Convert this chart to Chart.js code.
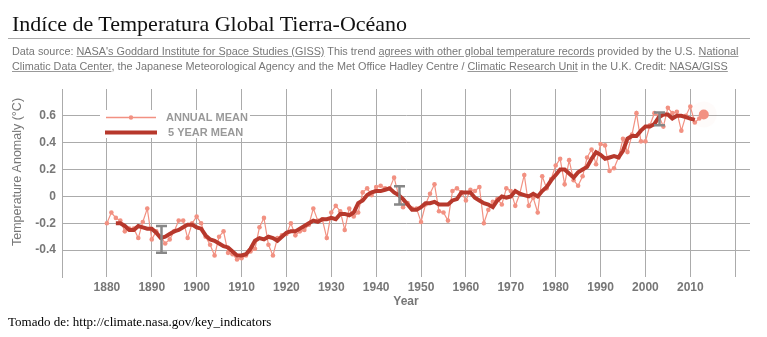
<!DOCTYPE html>
<html>
<head>
<meta charset="utf-8">
<script src="https://cdn.jsdelivr.net/npm/chart.js@4/dist/chart.umd.min.js"></script>
<style>
body{margin:0;background:#fff;width:767px;height:337px;position:relative;overflow:hidden}
#chart{position:absolute;left:0;top:0}
#title{position:absolute;left:12px;top:13px;line-height:22px;font-size:22px;font-family:"Liberation Serif",serif;color:#111;white-space:nowrap}
#rule{position:absolute;left:8px;top:38px;width:742px;height:1px;background:#aaa}
.src{position:absolute;left:12px;line-height:15px;font-size:10.85px;font-family:"Liberation Sans",Arial,sans-serif;color:#777;white-space:nowrap}
.src u{text-decoration-color:#999}
#foot{position:absolute;left:8px;top:315px;line-height:13px;font-size:13px;font-family:"Liberation Serif",serif;color:#000;white-space:nowrap}
</style>
</head>
<body>
<canvas id="chart" width="767" height="337"></canvas>
<div id="title">Indíce de Temperatura Global Tierra-Océano</div>
<div id="rule"></div>
<div class="src" style="top:44px">Data source: <u>NASA's Goddard Institute for Space Studies (GISS)</u> This trend <u>agrees with other global temperature records</u> provided by the U.S. <u>National</u></div>
<div class="src" style="top:59px"><u>Climatic Data Center</u>, the Japanese Meteorological Agency and the Met Office Hadley Centre / <u>Climatic Research Unit</u> in the U.K. Credit: <u>NASA/GISS</u></div>
<div id="foot">Tomado de: http://climate.nasa.gov/key_indicators</div>
<script>
'use strict'

let years = [
    1880, 1881, 1882, 1883, 1884, 1885, 1886, 1887, 1888, 1889,
    1890, 1891, 1892, 1893, 1894, 1895, 1896, 1897, 1898, 1899,
    1900, 1901, 1902, 1903, 1904, 1905, 1906, 1907, 1908, 1909,
    1910, 1911, 1912, 1913, 1914, 1915, 1916, 1917, 1918, 1919,
    1920, 1921, 1922, 1923, 1924, 1925, 1926, 1927, 1928, 1929,
    1930, 1931, 1932, 1933, 1934, 1935, 1936, 1937, 1938, 1939,
    1940, 1941, 1942, 1943, 1944, 1945, 1946, 1947, 1948, 1949,
    1950, 1951, 1952, 1953, 1954, 1955, 1956, 1957, 1958, 1959,
    1960, 1961, 1962, 1963, 1964, 1965, 1966, 1967, 1968, 1969,
    1970, 1971, 1972, 1973, 1974, 1975, 1976, 1977, 1978, 1979,
    1980, 1981, 1982, 1983, 1984, 1985, 1986, 1987, 1988, 1989,
    1990, 1991, 1992, 1993, 1994, 1995, 1996, 1997, 1998, 1999,
    2000, 2001, 2002, 2003, 2004, 2005, 2006, 2007, 2008, 2009,
    2010, 2011, 2012, 2013]

// annual mean anomaly, one per year
let annualMean = [
    -0.20, -0.12, -0.16, -0.18, -0.26, -0.24, -0.24, -0.31, -0.19, -0.09,
    -0.32, -0.26, -0.30, -0.35, -0.32, -0.26, -0.18, -0.18, -0.31, -0.20,
    -0.15, -0.20, -0.30, -0.36, -0.44, -0.30, -0.26, -0.42, -0.43, -0.47,
    -0.46, -0.44, -0.41, -0.39, -0.23, -0.16, -0.36, -0.44, -0.31, -0.29,
    -0.28, -0.20, -0.29, -0.26, -0.25, -0.21, -0.09, -0.18, -0.17, -0.31,
    -0.12, -0.07, -0.11, -0.25, -0.09, -0.15, -0.12, 0.03, 0.06, 0.01,
    0.07, 0.08, 0.06, 0.06, 0.14, 0.01, -0.08, -0.05, -0.09, -0.09,
    -0.19, -0.06, 0.02, 0.09, -0.11, -0.12, -0.18, 0.04, 0.06, 0.03,
    -0.03, 0.05, 0.04, 0.07, -0.20, -0.10, -0.04, -0.02, -0.06, 0.06,
    0.04, -0.07, 0.02, 0.16, -0.07, -0.01, -0.12, 0.15, 0.06, 0.13,
    0.23, 0.28, 0.09, 0.27, 0.12, 0.08, 0.15, 0.29, 0.35, 0.24,
    0.39, 0.38, 0.19, 0.21, 0.29, 0.43, 0.33, 0.46, 0.62, 0.41,
    0.41, 0.53, 0.62, 0.60, 0.52, 0.66, 0.62, 0.63, 0.49, 0.60,
    0.67, 0.55, 0.58, 0.61]

// 5 year mean, null where the window runs off the ends
let fiveYearMean = [
    null, null, -0.20, -0.20, -0.22, -0.25, -0.25, -0.22, -0.23, -0.24,
    -0.24, -0.27, -0.31, -0.30, -0.28, -0.26, -0.25, -0.23, -0.21, -0.21,
    -0.23, -0.24, -0.29, -0.32, -0.33, -0.35, -0.37, -0.38, -0.41, -0.44,
    -0.44, -0.43, -0.39, -0.33, -0.31, -0.32, -0.30, -0.31, -0.33, -0.30,
    -0.27, -0.26, -0.26, -0.24, -0.22, -0.20, -0.18, -0.19, -0.17, -0.17,
    -0.16, -0.17, -0.13, -0.13, -0.14, -0.12, -0.05, -0.03, 0.01, 0.03,
    0.04, 0.04, 0.05, 0.06, 0.03, 0.01, -0.02, -0.06, -0.10, -0.10,
    -0.08, -0.05, -0.05, -0.04, -0.06, -0.06, -0.06, -0.03, -0.02, 0.03,
    0.03, 0.03, -0.01, -0.03, -0.05, -0.06, -0.08, -0.03, 0.00, -0.01,
    0.00, 0.04, 0.02, 0.01, 0.00, 0.02, 0.00, 0.04, 0.07, 0.12,
    0.16, 0.20, 0.20, 0.17, 0.14, 0.18, 0.20, 0.22, 0.28, 0.33,
    0.31, 0.28, 0.29, 0.30, 0.29, 0.34, 0.43, 0.45, 0.45, 0.49,
    0.52, 0.52, 0.54, 0.59, 0.61, 0.61, 0.58, 0.60, 0.60, 0.59,
    0.58, 0.57, null, null]

// uncertainty bars
let errYears = [1892, 1945, 2003],
    errHigh = [-0.22, 0.075, 0.625],
    errLow = [-0.42, -0.06, 0.53]

let xGridYears = [1870, 1880, 1890, 1900, 1910, 1920, 1930, 1940, 1950, 1960, 1970, 1980, 1990, 2000, 2010, 2020],
    xTickLabels = ['1880', '1890', '1900', '1910', '1920', '1930', '1940', '1950', '1960', '1970', '1980', '1990', '2000', '2010'],
    yTickValues = [-0.4, -0.2, 0, 0.2, 0.4, 0.6],
    yTickLabels = ['-0.4', '-0.2', '0', '0.2', '0.4', '0.6']

let pink = 'rgb(242,145,130)',
    darkRed = 'rgb(183,56,44)',
    gridColor = '#ababab',
    sans = '"Liberation Sans", Arial, sans-serif'

let annualPoints = years.map((yr, i) => ({x: yr, y: annualMean[i]}))
let meanPoints = []
years.forEach((yr, i) => {
    if (fiveYearMean[i] !== null) meanPoints.push({x: yr, y: fiveYearMean[i]})
})
let last = annualPoints[annualPoints.length - 1]

let extras = {
    id: 'extras',
    afterDatasetsDraw(chart) {
        let ctx = chart.ctx,
            xs = chart.scales.x,
            ys = chart.scales.y
        ctx.save()
        ctx.strokeStyle = '#878787'
        for (let i = 0; i < errYears.length; i++) {
            let px = Math.round(xs.getPixelForValue(errYears[i])) + 0.5,
                top = ys.getPixelForValue(errHigh[i]),
                bot = ys.getPixelForValue(errLow[i])
            ctx.lineWidth = 2.5
            ctx.beginPath()
            ctx.moveTo(px, top)
            ctx.lineTo(px, bot)
            ctx.stroke()
            ctx.beginPath()
            ctx.moveTo(px - 5.5, top)
            ctx.lineTo(px + 5.5, top)
            ctx.moveTo(px - 5.5, bot)
            ctx.lineTo(px + 5.5, bot)
            ctx.stroke()
        }

        // legend
        ctx.fillStyle = '#fff'
        ctx.fillRect(100, 110, 150, 28)
        ctx.strokeStyle = pink
        ctx.lineWidth = 1.3
        ctx.beginPath()
        ctx.moveTo(106, 117.5)
        ctx.lineTo(156, 117.5)
        ctx.stroke()
        ctx.fillStyle = pink
        ctx.beginPath()
        ctx.arc(131, 117.5, 2.2, 0, Math.PI * 2)
        ctx.fill()
        ctx.strokeStyle = darkRed
        ctx.lineWidth = 4
        ctx.beginPath()
        ctx.moveTo(105, 132.5)
        ctx.lineTo(157, 132.5)
        ctx.stroke()
        ctx.fillStyle = '#999'
        ctx.font = 'bold 11px ' + sans
        ctx.textBaseline = 'alphabetic'
        ctx.textAlign = 'left'
        ctx.fillText('ANNUAL MEAN', 166, 121)
        ctx.fillText('5 YEAR MEAN', 168, 136)

        // y axis title
        ctx.translate(18, 172)
        ctx.rotate(-Math.PI / 2)
        ctx.fillStyle = '#777'
        ctx.font = '12.5px ' + sans
        ctx.textAlign = 'center'
        ctx.textBaseline = 'middle'
        ctx.fillText('Temperature Anomaly (°C)', 0, 0)
        ctx.restore()
    }
}

let myChart = new Chart(document.getElementById('chart'), {
    type: 'line',
    data: {
        datasets: [
            {
                data: meanPoints,
                borderColor: darkRed,
                borderWidth: 4,
                pointRadius: 0,
                tension: 0,
                order: 0
            },
            {
                data: annualPoints,
                borderColor: pink,
                backgroundColor: pink,
                borderWidth: 1.2,
                pointRadius: annualPoints.map((p, i) => i === annualPoints.length - 1 ? 5 : 2.3),
                pointBorderWidth: 0,
                pointBackgroundColor: pink,
                tension: 0,
                order: 1
            },
            {
                data: [last],
                showLine: false,
                pointRadius: 13,
                pointBorderWidth: 0,
                pointBackgroundColor: 'rgba(242,145,130,0.04)',
                order: 2
            }
        ]
    },
    options: {
        responsive: false,
        animation: false,
        events: [],
        layout: {padding: {top: 89, right: 17, bottom: 20, left: 0}},
        plugins: {legend: {display: false}, tooltip: {enabled: false}},
        scales: {
            x: {
                type: 'linear',
                min: 1870,
                max: 2023.3,
                afterFit(s) { s.height = 40 },
                afterBuildTicks(s) { s.ticks = xGridYears.map(v => ({value: v})) },
                grid: {color: gridColor, lineWidth: 1, drawTicks: false},
                border: {display: false},
                ticks: {
                    padding: 3,
                    color: '#777',
                    font: {family: sans, size: 12, weight: 'bold'},
                    maxRotation: 0,
                    autoSkip: false,
                    callback: v => xTickLabels.includes(String(v)) ? String(v) : ''
                },
                title: {
                    display: true,
                    text: 'Year',
                    color: '#777',
                    font: {family: sans, size: 12, weight: 'bold'},
                    padding: {top: 0, bottom: 8}
                }
            },
            y: {
                min: -0.6,
                max: 0.8,
                afterFit(s) { s.width = 62 },
                afterBuildTicks(s) { s.ticks = yTickValues.map(v => ({value: v})) },
                grid: {color: gridColor, lineWidth: 1, drawTicks: false},
                border: {display: true, color: gridColor},
                ticks: {
                    padding: 6,
                    color: '#777',
                    font: {family: sans, size: 12, weight: 'bold'},
                    callback: v => yTickLabels[yTickValues.indexOf(v)]
                }
            }
        }
    },
    plugins: [extras]
})
</script>
</body>
</html>
